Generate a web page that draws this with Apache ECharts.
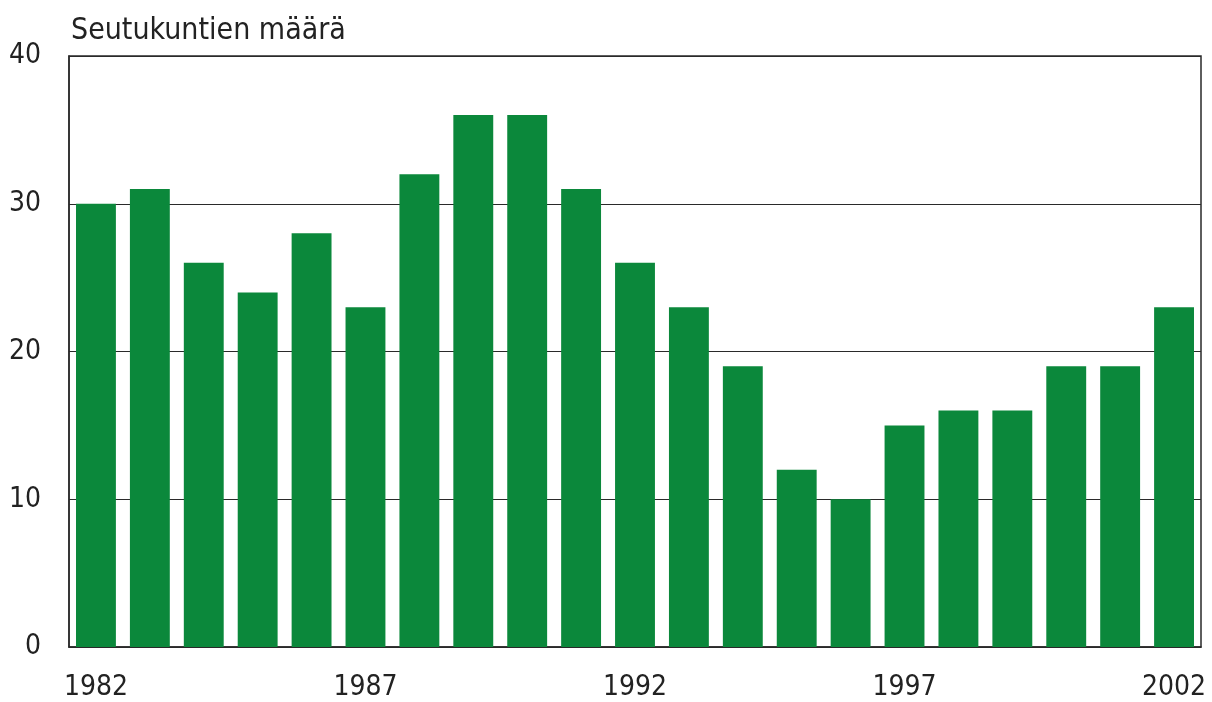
<!DOCTYPE html>
<html>
<head>
<meta charset="utf-8">
<script src="https://cdn.jsdelivr.net/npm/echarts@6/dist/echarts.min.js"></script>
<style>
  html, body { margin: 0; padding: 0; background: #ffffff; }
  #chart { width: 1212px; height: 702px; }
</style>
</head>
<body>
<div id="chart"></div>
<script>
// vuodet ja seutukuntien määrä
var years = ["1982", "1983", "1984", "1985", "1986", "1987", "1988", "1989", "1990", "1991",
  "1992", "1993", "1994", "1995", "1996", "1997", "1998", "1999", "2000", "2001", "2002"];
var counts = [30, 31, 26, 24, 28, 23, 32, 36, 36, 31, 26, 23, 19, 12, 10, 15, 16, 16, 19, 19, 23];
var yTicks = [0, 10, 20, 30, 40];

var font = "'Liberation Sans Narrow', 'DejaVu Sans Condensed', sans-serif";

var chart = echarts.init(document.getElementById("chart"));
chart.setOption({
  backgroundColor: "#ffffff",
  animation: false,
  title: {
    text: "Seutukuntien määrä",
    left: 66,
    top: 11,
    textStyle: { fontFamily: font, fontSize: 30, fontWeight: "normal", color: "#222" }
  },
  grid: {
    left: 69,
    right: 11,
    top: 56,
    bottom: 55,
    show: true,
    borderColor: "#2a2a2a",
    borderWidth: 1.5
  },
  xAxis: {
    type: "category",
    data: years,
    axisTick: { show: false },
    axisLine: { lineStyle: { color: "#2a2a2a", width: 1.5 } },
    axisLabel: {
      interval: 4,
      margin: 27,
      fontFamily: font,
      fontSize: 28,
      color: "#222"
    }
  },
  yAxis: {
    type: "value",
    min: yTicks[0],
    max: yTicks[yTicks.length - 1],
    interval: 10,
    axisTick: { show: false },
    axisLine: { show: true, lineStyle: { color: "#2a2a2a", width: 1.5 } },
    splitLine: { lineStyle: { color: "#2a2a2a", width: 1.2 } },
    axisLabel: {
      margin: 28,
      fontFamily: font,
      fontSize: 28,
      color: "#222"
    }
  },
  series: [{
    type: "bar",
    data: counts,
    barCategoryGap: "26%",
    itemStyle: { color: "#0b883b" }
  }]
});
</script>
</body>
</html>
